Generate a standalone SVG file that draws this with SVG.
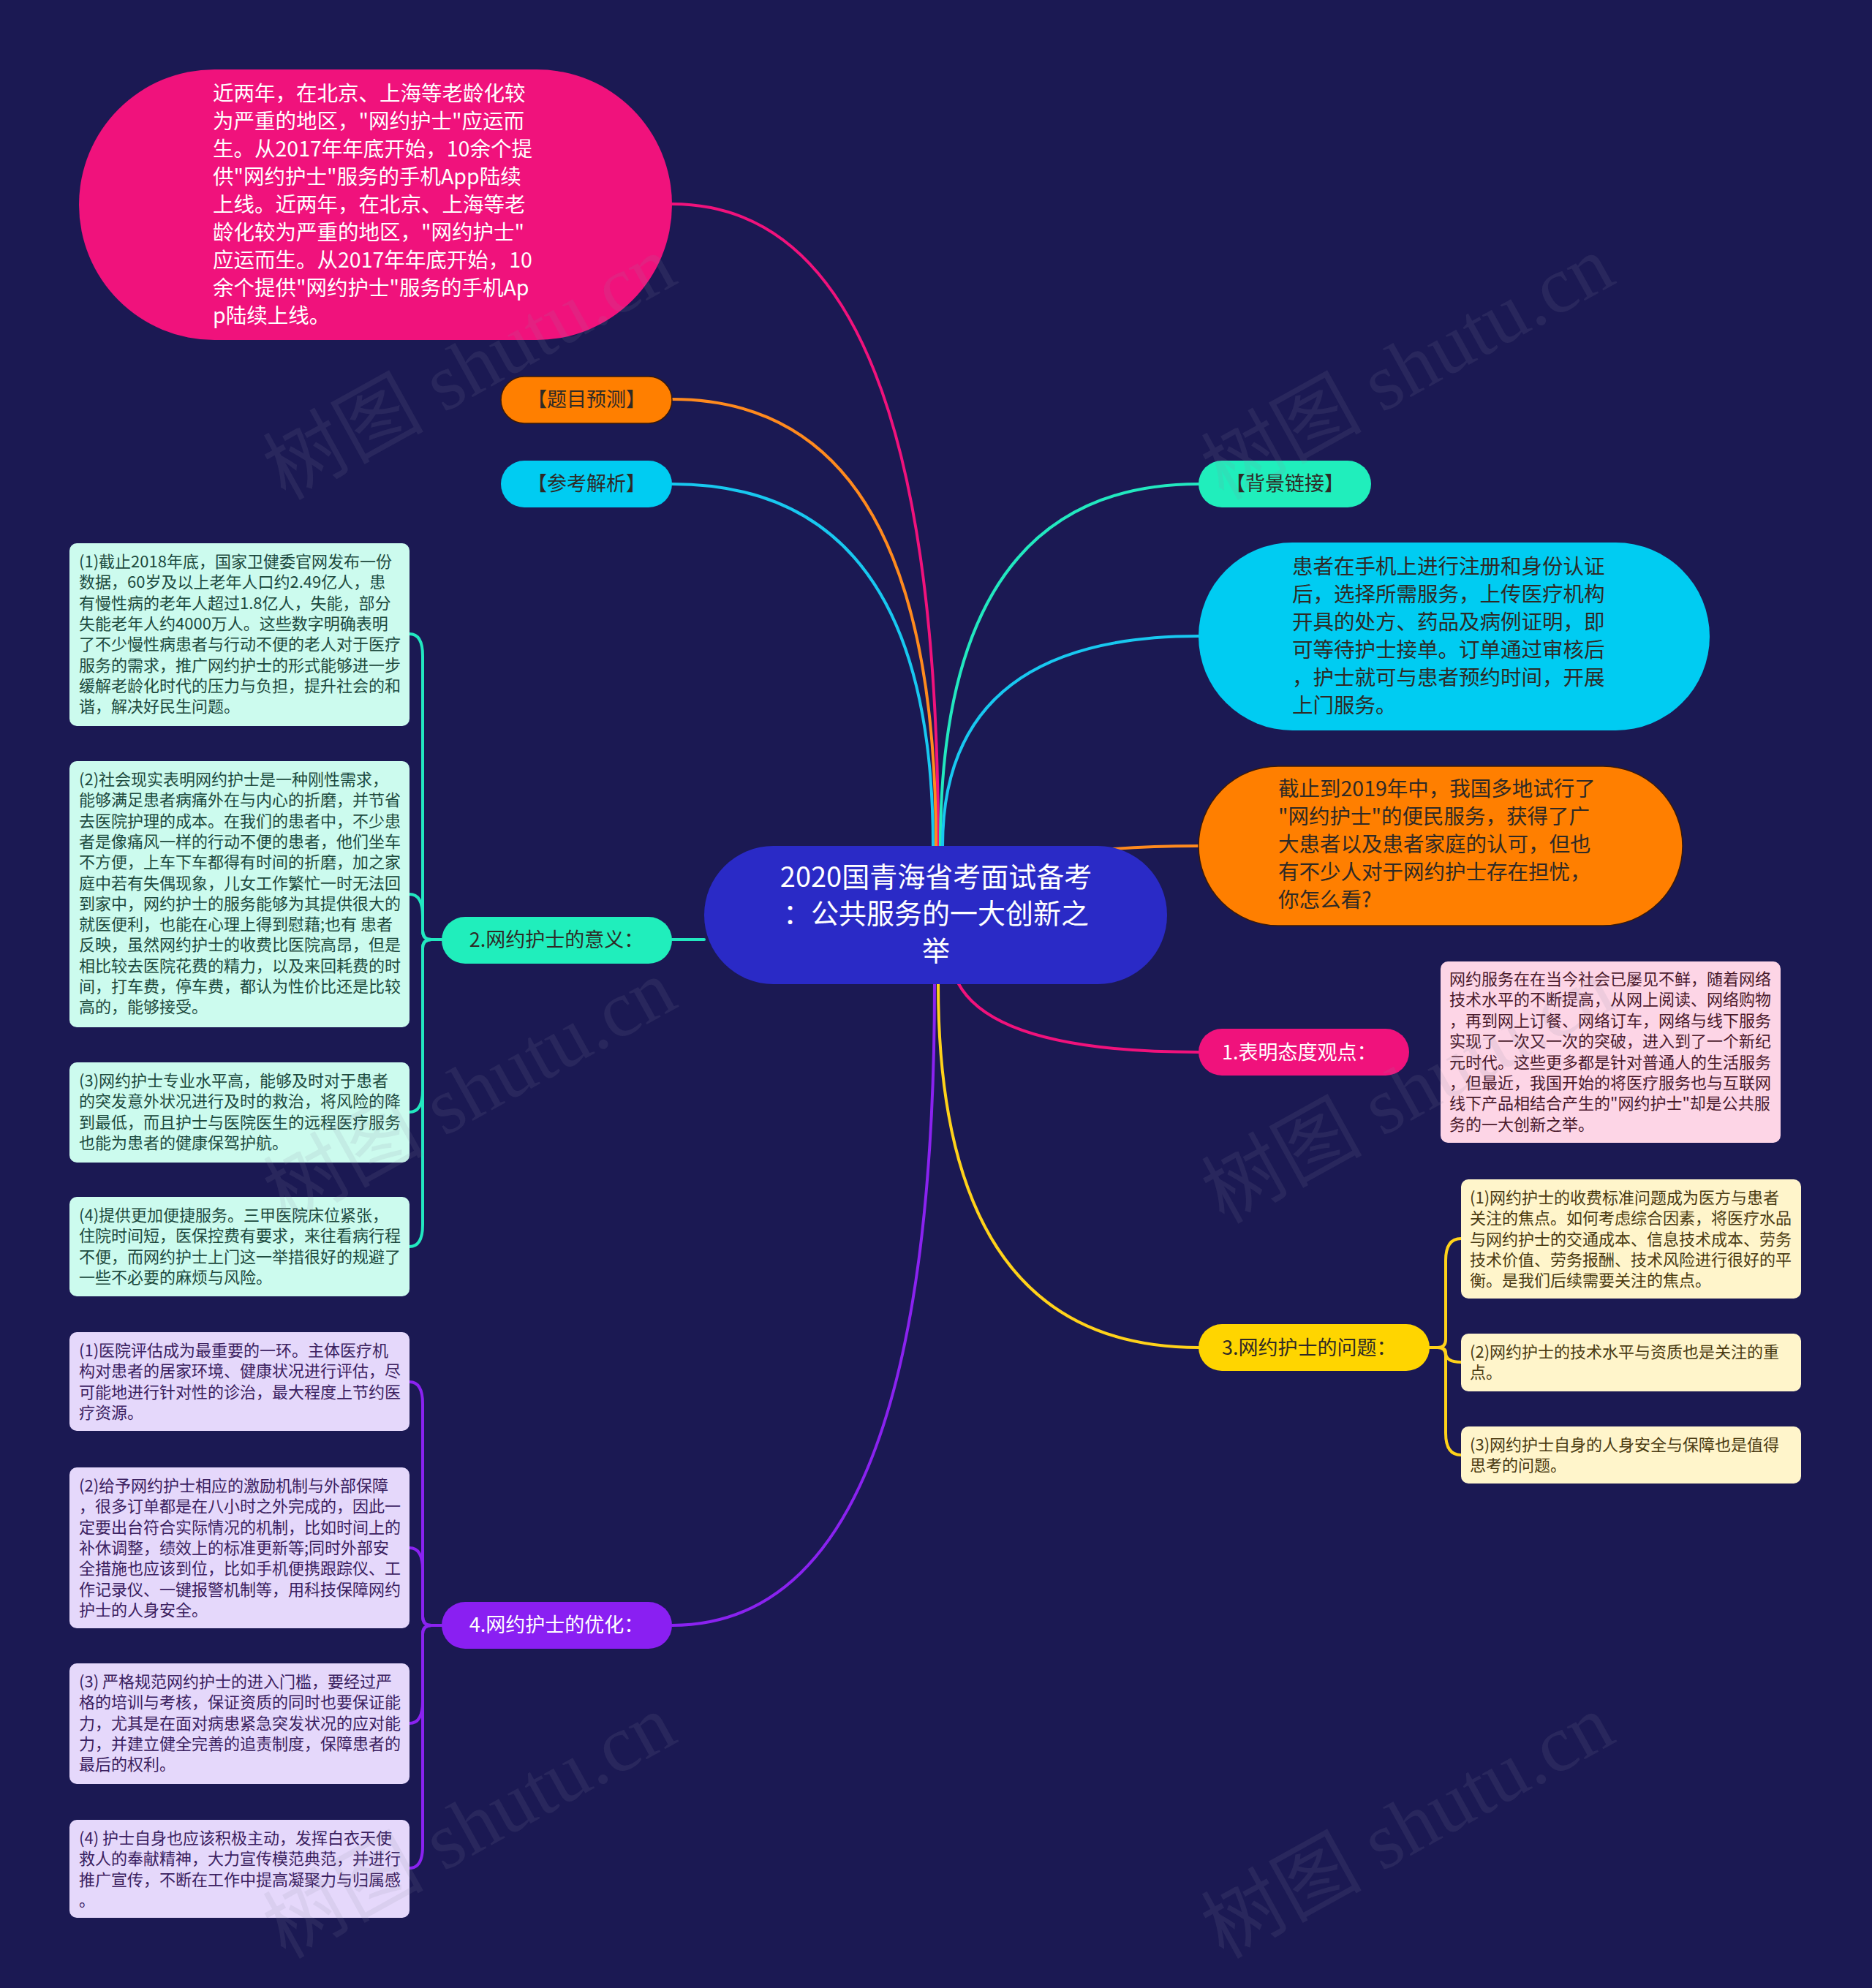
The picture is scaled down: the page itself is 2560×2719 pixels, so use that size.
<svg xmlns="http://www.w3.org/2000/svg" width="2560" height="2719" viewBox="0 0 2560 2719">
<style>
text{font-family:"Noto Sans CJK SC","Noto Sans",sans-serif;}
.big{font-size:28.5px;}
.mid{font-size:27px;}
.sm{font-size:22px;}
.ctr{font-size:38px;fill:#ffffff;}
.w{fill:#ffffff;}
.dk{fill:#2e2a26;}
.mint{fill:#ccfbee;}
.mintt{fill:#1d4a3e;}
.lav{fill:#e5d8fb;}
.lavt{fill:#3b2160;}
.cream{fill:#fff5cb;}
.creamt{fill:#4a3b12;}
.lpink{fill:#fdd5e6;}
.lpinkt{fill:#4a1a2c;}
.con{fill:none;stroke-width:4;stroke-linecap:round;}
.wm{font-family:"Liberation Serif","Noto Sans CJK SC",serif;font-size:110px;fill:#8a8aa0;fill-opacity:0.13;}
</style>
<rect x="0" y="0" width="2560" height="2719" fill="#1b1953"/>

<g id="connectors">
<path class="con" stroke="#f0127c" d="M1283,1157 Q1283,279 919,279"/>
<path class="con" stroke="#ff8a1e" d="M1280,1157 Q1280,546 919,546"/>
<path class="con" stroke="#18c8f0" d="M1276,1157 Q1276,662 919,662"/>
<path class="con" stroke="#22e8c0" d="M1286,1157 Q1286,662 1639,662"/>
<path class="con" stroke="#18c8f0" d="M1289,1157 Q1289,870 1639,870"/>
<path class="con" stroke="#ff8a1e" d="M1500,1163 Q1560,1157 1639,1157"/>
<path class="con" stroke="#f0127c" d="M1310,1344 Q1360,1439 1639,1439"/>
<path class="con" stroke="#ffd21a" d="M1283,1346 Q1283,1843 1639,1843"/>
<path class="con" stroke="#8a22f0" d="M1278,1346 Q1278,2223 919,2223"/>
<path class="con" stroke="#22e8c0" d="M963,1285 L919,1285"/>

<path class="con" stroke="#22e8c0" stroke-width="3" d="M604,1285 L590,1285 Q578,1285 578,1273 L578,897 Q578,867 560,867"/>
<path class="con" stroke="#22e8c0" stroke-width="3" d="M604,1285 L590,1285 Q578,1285 578,1273 L578,1253 Q578,1223 560,1223"/>
<path class="con" stroke="#22e8c0" stroke-width="3" d="M604,1285 L590,1285 Q578,1285 578,1297 L578,1491 Q578,1521 560,1521"/>
<path class="con" stroke="#22e8c0" stroke-width="3" d="M604,1285 L590,1285 Q578,1285 578,1297 L578,1675 Q578,1705 560,1705"/>

<path class="con" stroke="#8a22f0" stroke-width="3" d="M604,2223 L590,2223 Q578,2223 578,2211 L578,1920 Q578,1890 560,1890"/>
<path class="con" stroke="#8a22f0" stroke-width="3" d="M604,2223 L590,2223 Q578,2223 578,2211 L578,2147 Q578,2117 560,2117"/>
<path class="con" stroke="#8a22f0" stroke-width="3" d="M604,2223 L590,2223 Q578,2223 578,2235 L578,2327 Q578,2357 560,2357"/>
<path class="con" stroke="#8a22f0" stroke-width="3" d="M604,2223 L590,2223 Q578,2223 578,2235 L578,2525 Q578,2555 560,2555"/>

<path class="con" stroke="#ffd21a" stroke-width="3" d="M1955,1843 L1966,1843 Q1977,1843 1977,1832 L1977,1724 Q1977,1694 1998,1694"/>
<path class="con" stroke="#ffd21a" stroke-width="3" d="M1955,1843 L1966,1843 Q1977,1843 1977,1850 Q1977,1863 1998,1863"/>
<path class="con" stroke="#ffd21a" stroke-width="3" d="M1955,1843 L1966,1843 Q1977,1843 1977,1854 L1977,1960 Q1977,1990 1998,1990"/>
</g>

<g id="center">
<rect x="963" y="1157" width="633" height="189" rx="94.5" fill="#2a2ac6"/>
<text class="ctr" x="1280" y="1213" text-anchor="middle">2020国青海省考面试备考</text>
<text class="ctr" x="1280" y="1263" text-anchor="middle">：公共服务的一大创新之</text>
<text class="ctr" x="1280" y="1314" text-anchor="middle">举</text>
</g>

<g id="node-pink-top">
<rect x="108" y="95" width="811" height="370" rx="185" fill="#f0127c"/>
<text class="big w" x="291" y="138">近两年，在北京、上海等老龄化较</text>
<text class="big w" x="291" y="176">为严重的地区，"网约护士"应运而</text>
<text class="big w" x="291" y="214">生。从2017年年底开始，10余个提</text>
<text class="big w" x="291" y="252">供"网约护士"服务的手机App陆续</text>
<text class="big w" x="291" y="290">上线。近两年，在北京、上海等老</text>
<text class="big w" x="291" y="328">龄化较为严重的地区，"网约护士"</text>
<text class="big w" x="291" y="366">应运而生。从2017年年底开始，10</text>
<text class="big w" x="291" y="404">余个提供"网约护士"服务的手机Ap</text>
<text class="big w" x="291" y="442">p陆续上线。</text>
</g>

<g id="node-timu">
<rect x="685" y="515" width="234" height="64" rx="32" fill="#ff7f00" stroke="#3a1a08" stroke-width="1.5"/>
<text class="mid dk" x="802" y="556" text-anchor="middle">【题目预测】</text>
</g>

<g id="node-cankao">
<rect x="685" y="630" width="234" height="64" rx="32" fill="#00ccf2"/>
<text class="mid dk" x="802" y="671" text-anchor="middle">【参考解析】</text>
</g>

<g id="node-beijing">
<rect x="1639" y="630" width="236" height="64" rx="32" fill="#20eebc"/>
<text class="mid dk" x="1757" y="671" text-anchor="middle">【背景链接】</text>
</g>

<g id="node-cyan-big">
<rect x="1639" y="742" width="699" height="257" rx="128.5" fill="#00ccf2"/>
<text class="big dk" x="1767" y="785">患者在手机上进行注册和身份认证</text>
<text class="big dk" x="1767" y="823">后，选择所需服务，上传医疗机构</text>
<text class="big dk" x="1767" y="861">开具的处方、药品及病例证明，即</text>
<text class="big dk" x="1767" y="899">可等待护士接单。订单通过审核后</text>
<text class="big dk" x="1767" y="937">，护士就可与患者预约时间，开展</text>
<text class="big dk" x="1767" y="975">上门服务。</text>
</g>

<g id="node-orange-big">
<rect x="1639" y="1048" width="662" height="218" rx="109" fill="#ff7f00" stroke="#3a1a08" stroke-width="1.5"/>
<text class="big dk" x="1748" y="1089">截止到2019年中，我国多地试行了</text>
<text class="big dk" x="1748" y="1127">"网约护士"的便民服务，获得了广</text>
<text class="big dk" x="1748" y="1165">大患者以及患者家庭的认可，但也</text>
<text class="big dk" x="1748" y="1203">有不少人对于网约护士存在担忧，</text>
<text class="big dk" x="1748" y="1241">你怎么看?</text>
</g>

<g id="node-1">
<rect x="1639" y="1407" width="288" height="64" rx="32" fill="#f0127c"/>
<text class="mid w" x="1671" y="1449">1.表明态度观点：</text>
</g>

<g id="node-1-detail">
<rect x="1970" y="1315" width="465" height="248" rx="10" class="lpink"/>
<text class="sm lpinkt" x="1982" y="1347">网约服务在在当今社会已屡见不鲜，随着网络</text>
<text class="sm lpinkt" x="1982" y="1375.4">技术水平的不断提高，从网上阅读、网络购物</text>
<text class="sm lpinkt" x="1982" y="1403.8">，再到网上订餐、网络订车，网络与线下服务</text>
<text class="sm lpinkt" x="1982" y="1432.2">实现了一次又一次的突破，进入到了一个新纪</text>
<text class="sm lpinkt" x="1982" y="1460.6">元时代。这些更多都是针对普通人的生活服务</text>
<text class="sm lpinkt" x="1982" y="1489">，但最近，我国开始的将医疗服务也与互联网</text>
<text class="sm lpinkt" x="1982" y="1517.4">线下产品相结合产生的"网约护士"却是公共服</text>
<text class="sm lpinkt" x="1982" y="1545.8">务的一大创新之举。</text>
</g>

<g id="node-3">
<rect x="1639" y="1811" width="316" height="64" rx="32" fill="#ffd500"/>
<text class="mid dk" x="1671" y="1853">3.网约护士的问题：</text>
</g>

<g id="node-3-1">
<rect x="1998" y="1613" width="465" height="163" rx="10" class="cream"/>
<text class="sm creamt" x="2010" y="1646">(1)网约护士的收费标准问题成为医方与患者</text>
<text class="sm creamt" x="2010" y="1674.3">关注的焦点。如何考虑综合因素，将医疗水品</text>
<text class="sm creamt" x="2010" y="1702.6">与网约护士的交通成本、信息技术成本、劳务</text>
<text class="sm creamt" x="2010" y="1730.9">技术价值、劳务报酬、技术风险进行很好的平</text>
<text class="sm creamt" x="2010" y="1759.2">衡。是我们后续需要关注的焦点。</text>
</g>
<g id="node-3-2">
<rect x="1998" y="1824" width="465" height="79" rx="10" class="cream"/>
<text class="sm creamt" x="2010" y="1857">(2)网约护士的技术水平与资质也是关注的重</text>
<text class="sm creamt" x="2010" y="1885.3">点。</text>
</g>
<g id="node-3-3">
<rect x="1998" y="1951" width="465" height="78" rx="10" class="cream"/>
<text class="sm creamt" x="2010" y="1984">(3)网约护士自身的人身安全与保障也是值得</text>
<text class="sm creamt" x="2010" y="2012.3">思考的问题。</text>
</g>

<g id="node-2">
<rect x="604" y="1254" width="315" height="64" rx="32" fill="#20eebc"/>
<text class="mid dk" x="761" y="1295" text-anchor="middle">2.网约护士的意义：</text>
</g>

<g id="node-2-1">
<rect x="95" y="743" width="465" height="250" rx="10" class="mint"/>
<text class="sm mintt" x="108" y="776">(1)截止2018年底，国家卫健委官网发布一份</text>
<text class="sm mintt" x="108" y="804.3">数据，60岁及以上老年人口约2.49亿人，患</text>
<text class="sm mintt" x="108" y="832.6">有慢性病的老年人超过1.8亿人，失能，部分</text>
<text class="sm mintt" x="108" y="860.9">失能老年人约4000万人。这些数字明确表明</text>
<text class="sm mintt" x="108" y="889.2">了不少慢性病患者与行动不便的老人对于医疗</text>
<text class="sm mintt" x="108" y="917.5">服务的需求，推广网约护士的形式能够进一步</text>
<text class="sm mintt" x="108" y="945.8">缓解老龄化时代的压力与负担，提升社会的和</text>
<text class="sm mintt" x="108" y="974.1">谐，解决好民生问题。</text>
</g>

<g id="node-2-2">
<rect x="95" y="1041" width="465" height="364" rx="10" class="mint"/>
<text class="sm mintt" x="108" y="1074">(2)社会现实表明网约护士是一种刚性需求，</text>
<text class="sm mintt" x="108" y="1102.3">能够满足患者病痛外在与内心的折磨，并节省</text>
<text class="sm mintt" x="108" y="1130.6">去医院护理的成本。在我们的患者中，不少患</text>
<text class="sm mintt" x="108" y="1158.9">者是像痛风一样的行动不便的患者，他们坐车</text>
<text class="sm mintt" x="108" y="1187.2">不方便，上车下车都得有时间的折磨，加之家</text>
<text class="sm mintt" x="108" y="1215.5">庭中若有失偶现象，儿女工作繁忙一时无法回</text>
<text class="sm mintt" x="108" y="1243.8">到家中，网约护士的服务能够为其提供很大的</text>
<text class="sm mintt" x="108" y="1272.1">就医便利，也能在心理上得到慰藉;也有 患者</text>
<text class="sm mintt" x="108" y="1300.4">反映，虽然网约护士的收费比医院高昂，但是</text>
<text class="sm mintt" x="108" y="1328.7">相比较去医院花费的精力，以及来回耗费的时</text>
<text class="sm mintt" x="108" y="1357">间，打车费，停车费，都认为性价比还是比较</text>
<text class="sm mintt" x="108" y="1385.3">高的，能够接受。</text>
</g>

<g id="node-2-3">
<rect x="95" y="1453" width="465" height="137" rx="10" class="mint"/>
<text class="sm mintt" x="108" y="1486">(3)网约护士专业水平高，能够及时对于患者</text>
<text class="sm mintt" x="108" y="1514.3">的突发意外状况进行及时的救治，将风险的降</text>
<text class="sm mintt" x="108" y="1542.6">到最低，而且护士与医院医生的远程医疗服务</text>
<text class="sm mintt" x="108" y="1570.9">也能为患者的健康保驾护航。</text>
</g>

<g id="node-2-4">
<rect x="95" y="1637" width="465" height="136" rx="10" class="mint"/>
<text class="sm mintt" x="108" y="1670">(4)提供更加便捷服务。三甲医院床位紧张，</text>
<text class="sm mintt" x="108" y="1698.3">住院时间短，医保控费有要求，来往看病行程</text>
<text class="sm mintt" x="108" y="1726.6">不便，而网约护士上门这一举措很好的规避了</text>
<text class="sm mintt" x="108" y="1754.9">一些不必要的麻烦与风险。</text>
</g>

<g id="node-4">
<rect x="604" y="2191" width="315" height="64" rx="32" fill="#8a1ff2"/>
<text class="mid w" x="761" y="2232" text-anchor="middle">4.网约护士的优化：</text>
</g>

<g id="node-4-1">
<rect x="95" y="1822" width="465" height="135" rx="10" class="lav"/>
<text class="sm lavt" x="108" y="1855">(1)医院评估成为最重要的一环。主体医疗机</text>
<text class="sm lavt" x="108" y="1883.3">构对患者的居家环境、健康状况进行评估，尽</text>
<text class="sm lavt" x="108" y="1911.6">可能地进行针对性的诊治，最大程度上节约医</text>
<text class="sm lavt" x="108" y="1939.9">疗资源。</text>
</g>

<g id="node-4-2">
<rect x="95" y="2007" width="465" height="220" rx="10" class="lav"/>
<text class="sm lavt" x="108" y="2040">(2)给予网约护士相应的激励机制与外部保障</text>
<text class="sm lavt" x="108" y="2068.3">，很多订单都是在八小时之外完成的，因此一</text>
<text class="sm lavt" x="108" y="2096.6">定要出台符合实际情况的机制，比如时间上的</text>
<text class="sm lavt" x="108" y="2124.9">补休调整，绩效上的标准更新等;同时外部安</text>
<text class="sm lavt" x="108" y="2153.2">全措施也应该到位，比如手机便携跟踪仪、工</text>
<text class="sm lavt" x="108" y="2181.5">作记录仪、一键报警机制等，用科技保障网约</text>
<text class="sm lavt" x="108" y="2209.8">护士的人身安全。</text>
</g>

<g id="node-4-3">
<rect x="95" y="2275" width="465" height="165" rx="10" class="lav"/>
<text class="sm lavt" x="108" y="2308">(3) 严格规范网约护士的进入门槛，要经过严</text>
<text class="sm lavt" x="108" y="2336.3">格的培训与考核，保证资质的同时也要保证能</text>
<text class="sm lavt" x="108" y="2364.6">力，尤其是在面对病患紧急突发状况的应对能</text>
<text class="sm lavt" x="108" y="2392.9">力，并建立健全完善的追责制度，保障患者的</text>
<text class="sm lavt" x="108" y="2421.2">最后的权利。</text>
</g>

<g id="node-4-4">
<rect x="95" y="2489" width="465" height="134" rx="10" class="lav"/>
<text class="sm lavt" x="108" y="2522">(4) 护士自身也应该积极主动，发挥白衣天使</text>
<text class="sm lavt" x="108" y="2550.3">救人的奉献精神，大力宣传模范典范，并进行</text>
<text class="sm lavt" x="108" y="2578.6">推广宣传，不断在工作中提高凝聚力与归属感</text>
<text class="sm lavt" x="108" y="2606.9">。</text>
</g>

<g id="watermarks">
<text class="wm" x="642" y="540" text-anchor="middle" transform="rotate(-29 642 503)">树图 shutu.cn</text>
<text class="wm" x="1925" y="540" text-anchor="middle" transform="rotate(-29 1925 503)">树图 shutu.cn</text>
<text class="wm" x="642" y="1530" text-anchor="middle" transform="rotate(-29 642 1492)">树图 shutu.cn</text>
<text class="wm" x="1925" y="1530" text-anchor="middle" transform="rotate(-29 1925 1492)">树图 shutu.cn</text>
<text class="wm" x="642" y="2535" text-anchor="middle" transform="rotate(-29 642 2498)">树图 shutu.cn</text>
<text class="wm" x="1925" y="2535" text-anchor="middle" transform="rotate(-29 1925 2498)">树图 shutu.cn</text>
</g>
</svg>
